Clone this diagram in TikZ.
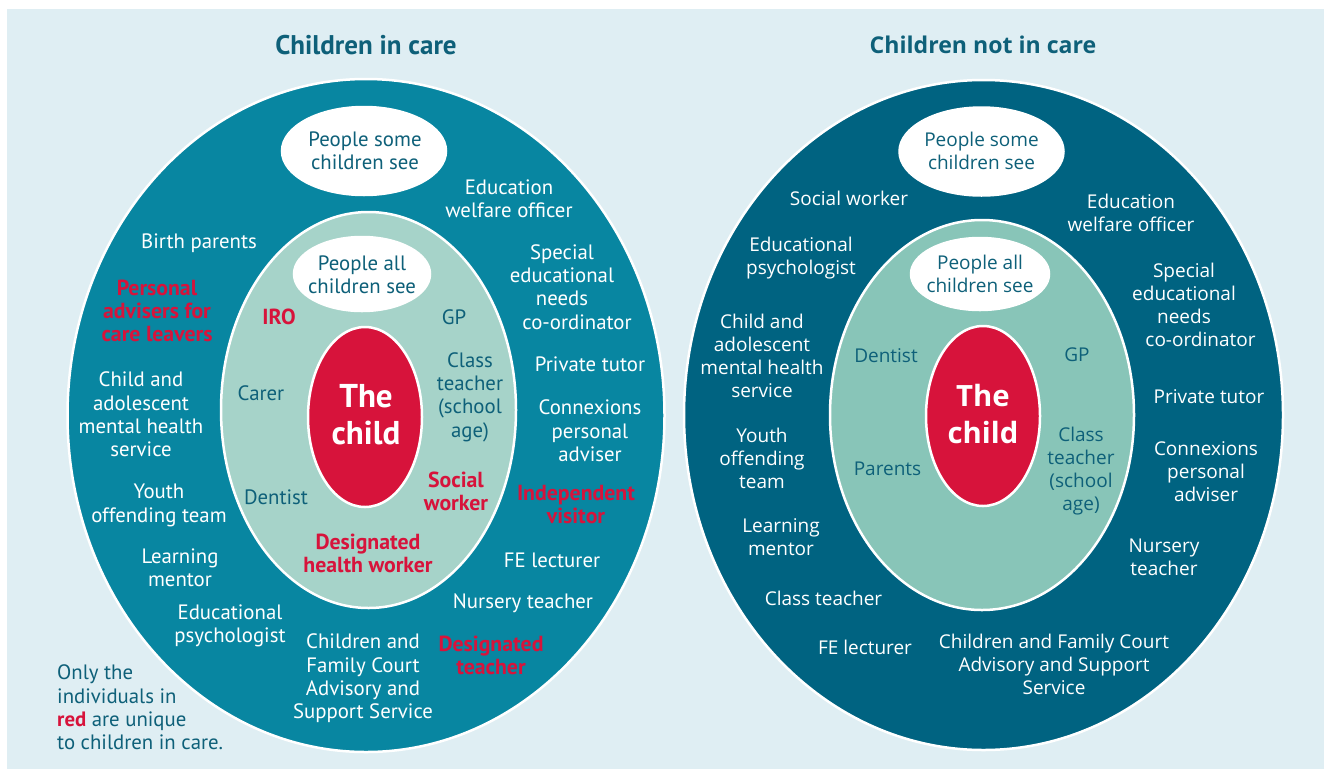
\documentclass[tikz,border=0pt]{standalone}
\usepackage{fontspec}
\setmainfont{PT Sans}
\newfontfamily\rfont{Open Sans}
\usetikzlibrary{shapes.geometric}
\definecolor{panel}{HTML}{DFEEF3}
\definecolor{outerL}{HTML}{0886A1}
\definecolor{outerR}{HTML}{006381}
\definecolor{innerL}{HTML}{A6D3C9}
\definecolor{innerR}{HTML}{88C5B8}
\definecolor{redc}{HTML}{D7133B}
\definecolor{darkteal}{HTML}{0E6079}
\tikzset{
  ring/.style={ellipse, draw=white, line width=2.5pt, inner sep=0pt},
  lbl/.style={align=center, inner sep=0pt, font=\fontsize{20.8}{23.3}\selectfont},
  wl/.style={lbl, text=white},
  dl/.style={lbl, text=darkteal},
  rl/.style={lbl, text=redc, font=\bfseries\fontsize{21.8}{23}\selectfont},
  childL/.style={align=center, inner sep=0pt, text=white, font=\bfseries\fontsize{33}{37}\selectfont},
  rlb/.style={align=center, inner sep=0pt, font=\rfont\fontsize{19}{23}\selectfont},
  rw/.style={rlb, text=white},
  rd/.style={rlb, text=darkteal},
  childR/.style={align=center, inner sep=0pt, text=white, font=\rfont\bfseries\fontsize{29.3}{37}\selectfont},
  ttlL/.style={inner sep=0pt, text=darkteal, font=\bfseries\fontsize{27}{30}\selectfont},
  ttlR/.style={inner sep=0pt, text=darkteal, font=\rfont\bfseries\fontsize{23.1}{28}\selectfont},
}
\begin{document}
\begin{tikzpicture}[x=1pt,y=-1pt]
\useasboundingbox (0,0) rectangle (1324,769);
\fill[white] (0,0) rectangle (1324,769);
\fill[panel] (7,9) rectangle (1324,769);

% ---------- Left diagram ----------
\node[ttlL] (titleL) at (366,45) {Children in care};
\node[ring, fill=outerL, minimum width=597pt, minimum height=673pt] (outL) at (366,415.5) {};
\node[ring, fill=white, minimum width=164pt, minimum height=88pt] (someEL) at (364,151) {};
\node[ring, fill=innerL, minimum width=295pt, minimum height=396pt] (inL) at (368.5,410) {};
\node[ring, fill=white, minimum width=136pt, minimum height=74pt] (allEL) at (362,274) {};
\node[ring, fill=redc, minimum width=114pt, minimum height=180pt] (redL) at (365,417) {};

\node[dl] (someL) at (365,150.5) {People some\\children see};
\node[dl] (allL) at (362,275) {People all\\children see};
\node[childL] (childLt) at (366,414.5) {The\\child};

\node[wl] (edu) at (509,199) {Education\\welfare officer};
\node[wl] (birth) at (199,243) {Birth parents};
\node[wl] (sen) at (562,287) {Special\\educational\\needs\\\hspace*{30pt}co-ordinator};
\node[rl] (pers) at (157,311) {Personal\\advisers for\\care leavers};
\node[wl] (tutor) at (590,364) {Private tutor};
\node[wl] (camhs) at (141,414.5) {Child and\\adolescent\\mental health\\service};
\node[wl] (conx) at (590,431) {Connexions\\personal\\adviser};
\node[wl] (yot) at (159,505.5) {Youth\\offending team};
\node[rl] (iv) at (576,505) {Independent\\visitor};
\node[wl] (lm) at (180,568) {Learning\\mentor};
\node[wl] (fe) at (552,560) {FE lecturer};
\node[wl] (nur) at (523,603) {Nursery teacher};
\node[wl] (edpsy) at (230,625.5) {Educational\\psychologist};
\node[wl] (cafcass) at (363,678.5) {Children and\\Family Court\\Advisory and\\Support Service};
\node[rl] (dt) at (491,655.5) {Designated\\teacher};

\node[rl] (iro) at (279,317) {IRO};
\node[dl] (gpL) at (454,317) {GP};
\node[dl] (carer) at (261,393) {Carer};
\node[dl] (ctL) at (470,397) {Class\\teacher\\(school\\age)};
\node[dl] (dentL) at (276,497) {Dentist};
\node[rl] (swL) at (456,491.5) {Social\\worker};
\node[rl] (dhw) at (368,553) {Designated\\health worker};

\node[lbl, align=left, anchor=west, text=darkteal] (note) at (57,707.5)
  {Only the\\individuals in\\{\color{redc}\bfseries red} are unique\\to children in care.};

% ---------- Right diagram ----------
\node[ttlR] (titleR) at (983,45) {Children not in care};
\node[ring, fill=outerR, minimum width=599pt, minimum height=670pt] (outR) at (983.5,415) {};
\node[ring, fill=white, minimum width=164pt, minimum height=88pt] (someER) at (981.5,151.5) {};
\node[ring, fill=innerR, minimum width=304pt, minimum height=390pt] (inR) at (982,415) {};
\node[ring, fill=white, minimum width=138pt, minimum height=72pt] (allER) at (980,274) {};
\node[ring, fill=redc, minimum width=114pt, minimum height=180pt] (redR) at (983,416) {};

\node[rd] (someR) at (981.5,151) {People some\\children see};
\node[rd] (allR) at (980,274) {People all\\children see};
\node[childR] (childRt) at (983,414) {The\\child};

\node[rw] (swR) at (849,198) {Social worker};
\node[rw] (eduR) at (1131,213) {Education\\welfare officer};
\node[rw] (edpsyR) at (801,258) {Educational\\psychologist};
\node[rw] (senR) at (1184,305) {Special\\educational\\needs\\\hspace*{33pt}co-ordinator};
\node[rw] (camhsR) at (762,356) {Child and\\adolescent\\mental health\\service};
\node[rw] (tutorR) at (1209,397) {Private tutor};
\node[rw] (yotR) at (762,458) {Youth\\offending\\team};
\node[rw] (conxR) at (1206,472) {Connexions\\personal\\adviser};
\node[rw] (lmR) at (781,537) {Learning\\mentor};
\node[rw] (nurR) at (1164,557) {Nursery\\teacher};
\node[rw] (ctR2) at (823.5,598) {Class teacher};
\node[rw] (feR) at (865,647) {FE lecturer};
\node[rw] (cafR) at (1054,664.5) {Children and Family Court\\Advisory and Support\\Service};

\node[rd] (dentR) at (886,356) {Dentist};
\node[rd] (gpR) at (1077,355) {GP};
\node[rd] (parents) at (887.5,469) {Parents};
\node[rd] (ctR) at (1081,471.5) {Class\\teacher\\(school\\age)};
\end{tikzpicture}
\end{document}
